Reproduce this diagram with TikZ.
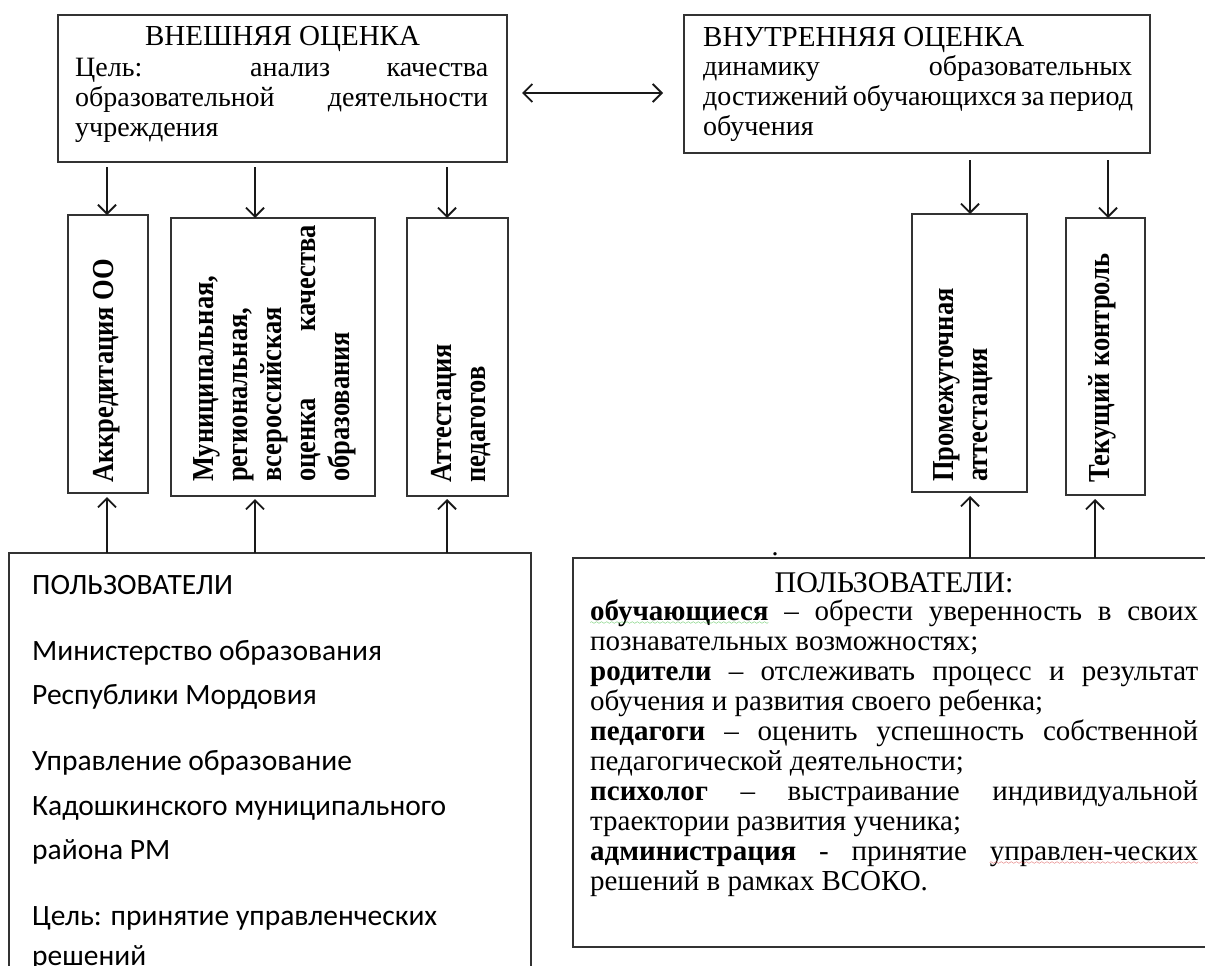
\documentclass[tikz,border=0pt]{standalone}
\usepackage{fontspec}
\setmainfont{Liberation Serif}
\newfontfamily\calibri{Carlito}
\usetikzlibrary{arrows.meta}
\font\wavefnt=lasy6
\newcommand\wavy[2]{\setbox0=\hbox{#2}\leavevmode\rlap{\copy0}\rlap{\lower4.5pt\hbox to\wd0{\color{#1}\xleaders\hbox{\wavefnt\char58}\hfil}}\hbox to\wd0{}}
\newcommand\vst[1]{\scalebox{1}[1.15]{#1}}
\begin{document}
\begin{tikzpicture}[x=1pt,y=-1pt,
  boxs/.style={draw=black!80, line width=1.6pt, inner sep=0pt, outer sep=0pt, anchor=north west},
  arr/.style={-{Straight Barb[length=9pt,width=18pt]}, line width=1.8pt, black!90},
  dbl/.style={{Straight Barb[length=9pt,width=18pt]}-{Straight Barb[length=9pt,width=18pt]}, line width=1.8pt, black!90},
  htxt/.style={inner sep=0pt, font=\fontsize{28}{30}\selectfont},
  ttl/.style={inner sep=0pt, font=\fontsize{29}{30}\selectfont},
  vtxt/.style={rotate=90, anchor=base west, inner sep=0pt, font=\bfseries\fontsize{26.5}{29.6}\selectfont},
  ]
\useasboundingbox (0,0) rectangle (1205,966);
\clip (0,0) rectangle (1205,966);

% top boxes
\node[boxs, minimum width=449pt, minimum height=147pt] (tl) at (58,15) {};
\node[boxs, minimum width=466pt, minimum height=138pt] (tr) at (684,15) {};
\node[ttl, anchor=base] (tlT) at (282.5,46) {ВНЕШНЯЯ ОЦЕНКА};
\node[htxt, anchor=base west] (tlB) at (75,77) {\parbox[t]{413pt}{%
  \makebox[413pt][s]{Цель: анализ качества}\\
  \makebox[413pt][s]{образовательной деятельности}\\
  учреждения}};
\node[ttl, anchor=base west] (trT) at (703,47) {ВНУТРЕННЯЯ ОЦЕНКА};
\node[htxt, anchor=base west] (trB) at (703,76) {\parbox[t]{429pt}{%
  \makebox[429pt][s]{динамику образовательных}\\
  \makebox[429pt][s]{достижений обучающихся за период}\\
  обучения}};

% vertical boxes
\node[boxs, minimum width=80pt, minimum height=278pt] (a1) at (68,215) {};
\node[boxs, minimum width=204pt, minimum height=278pt] (a2) at (171,218) {};
\node[boxs, minimum width=101pt, minimum height=278pt] (a3) at (407,218) {};
\node[boxs, minimum width=115pt, minimum height=278pt] (b1) at (912,214) {};
\node[boxs, minimum width=79pt, minimum height=277pt] (b2) at (1066,218) {};

\node[vtxt] (a1t) at (113,483) {\vst{Аккредитация ОО}};
\node[vtxt] (a2t) at (213,482) {\vst{\parbox[t]{257pt}{Муниципальная,\\ региональная,\\ всероссийская\\ \makebox[257pt][s]{оценка качества}\\ образования}}};
\node[vtxt] (a3t) at (451,483) {\vst{\parbox[t]{140pt}{Аттестация\\ педагогов}}};
\node[vtxt] (b1t) at (953,482) {\vst{\parbox[t]{200pt}{Промежуточная\\ аттестация}}};
\node[vtxt] (b2t) at (1109,483) {\vst{Текущий контроль}};

% bottom boxes
\node[boxs, minimum width=522pt, minimum height=460pt] (bl) at (9,553) {};
\node[boxs, minimum width=645pt, minimum height=389pt] (br) at (573,558) {};

\node[anchor=base west, inner sep=0pt, font=\calibri\fontsize{29.5}{44.5}\selectfont] (blT) at (32,594) {\parbox[t]{490pt}{%
  ПОЛЬЗОВАТЕЛИ\\[21.5pt]
  Министерство образования\\
  Республики Мордовия\\[21.5pt]
  Управление образование\\
  Кадошкинского муниципального\\
  района РМ\\[21.5pt]
  Цель: принятие управленческих\\[-5pt]
  решений}};

\node[anchor=base, inner sep=0pt, font=\fontsize{30}{30}\selectfont] (brT) at (894,592) {ПОЛЬЗОВАТЕЛИ:};
\node[anchor=base west, inner sep=0pt, font=\fontsize{29}{30}\selectfont] (brB) at (590,620) {\parbox[t]{608pt}{%
  \makebox[608pt][s]{\textbf{\wavy{green!65!black}{обучающиеся}} – обрести уверенность в своих}\\
  познавательных возможностях;\\
  \makebox[608pt][s]{\textbf{родители} – отслеживать процесс и результат}\\
  обучения и развития своего ребенка;\\
  \makebox[608pt][s]{\textbf{педагоги} – оценить успешность собственной}\\
  педагогической деятельности;\\
  \makebox[608pt][s]{\textbf{психолог} – выстраивание индивидуальной}\\
  траектории развития ученика;\\
  \makebox[608pt][s]{\textbf{администрация} - принятие \wavy{red!80!black}{управлен-ческих}}\\
  решений в рамках ВСОКО.}};
\node[htxt, anchor=base] (dot) at (775,555) {.};

% arrow x positions
\coordinate (x1) at (107,0);
\coordinate (x2) at (255,0);
\coordinate (x3) at (447,0);
\coordinate (x4) at (970,0);
\coordinate (x5) at (1108,0);
\coordinate (x6) at (1095,0);
\coordinate (ay) at (0,93);

\draw[dbl, shorten <=15pt, shorten >=21pt] (tl.east |- ay) -- (tr.west |- ay);

\draw[arr, shorten <=5pt] (x1 |- tl.south) -- (x1 |- a1.north);
\draw[arr, shorten <=5pt] (x2 |- tl.south) -- (x2 |- a2.north);
\draw[arr, shorten <=5pt] (x3 |- tl.south) -- (x3 |- a3.north);
\draw[arr, shorten <=7pt] (x4 |- tr.south) -- (x4 |- b1.north);
\draw[arr, shorten <=7pt] (x5 |- tr.south) -- (x5 |- b2.north);

\draw[arr, shorten >=4pt] (x1 |- bl.north) -- (x1 |- a1.south);
\draw[arr, shorten >=3pt] (x2 |- bl.north) -- (x2 |- a2.south);
\draw[arr, shorten >=3pt] (x3 |- bl.north) -- (x3 |- a3.south);
\draw[arr, shorten >=4pt] (x4 |- br.north) -- (x4 |- b1.south);
\draw[arr, shorten >=4pt] (x6 |- br.north) -- (x6 |- b2.south);
\end{tikzpicture}
\end{document}
